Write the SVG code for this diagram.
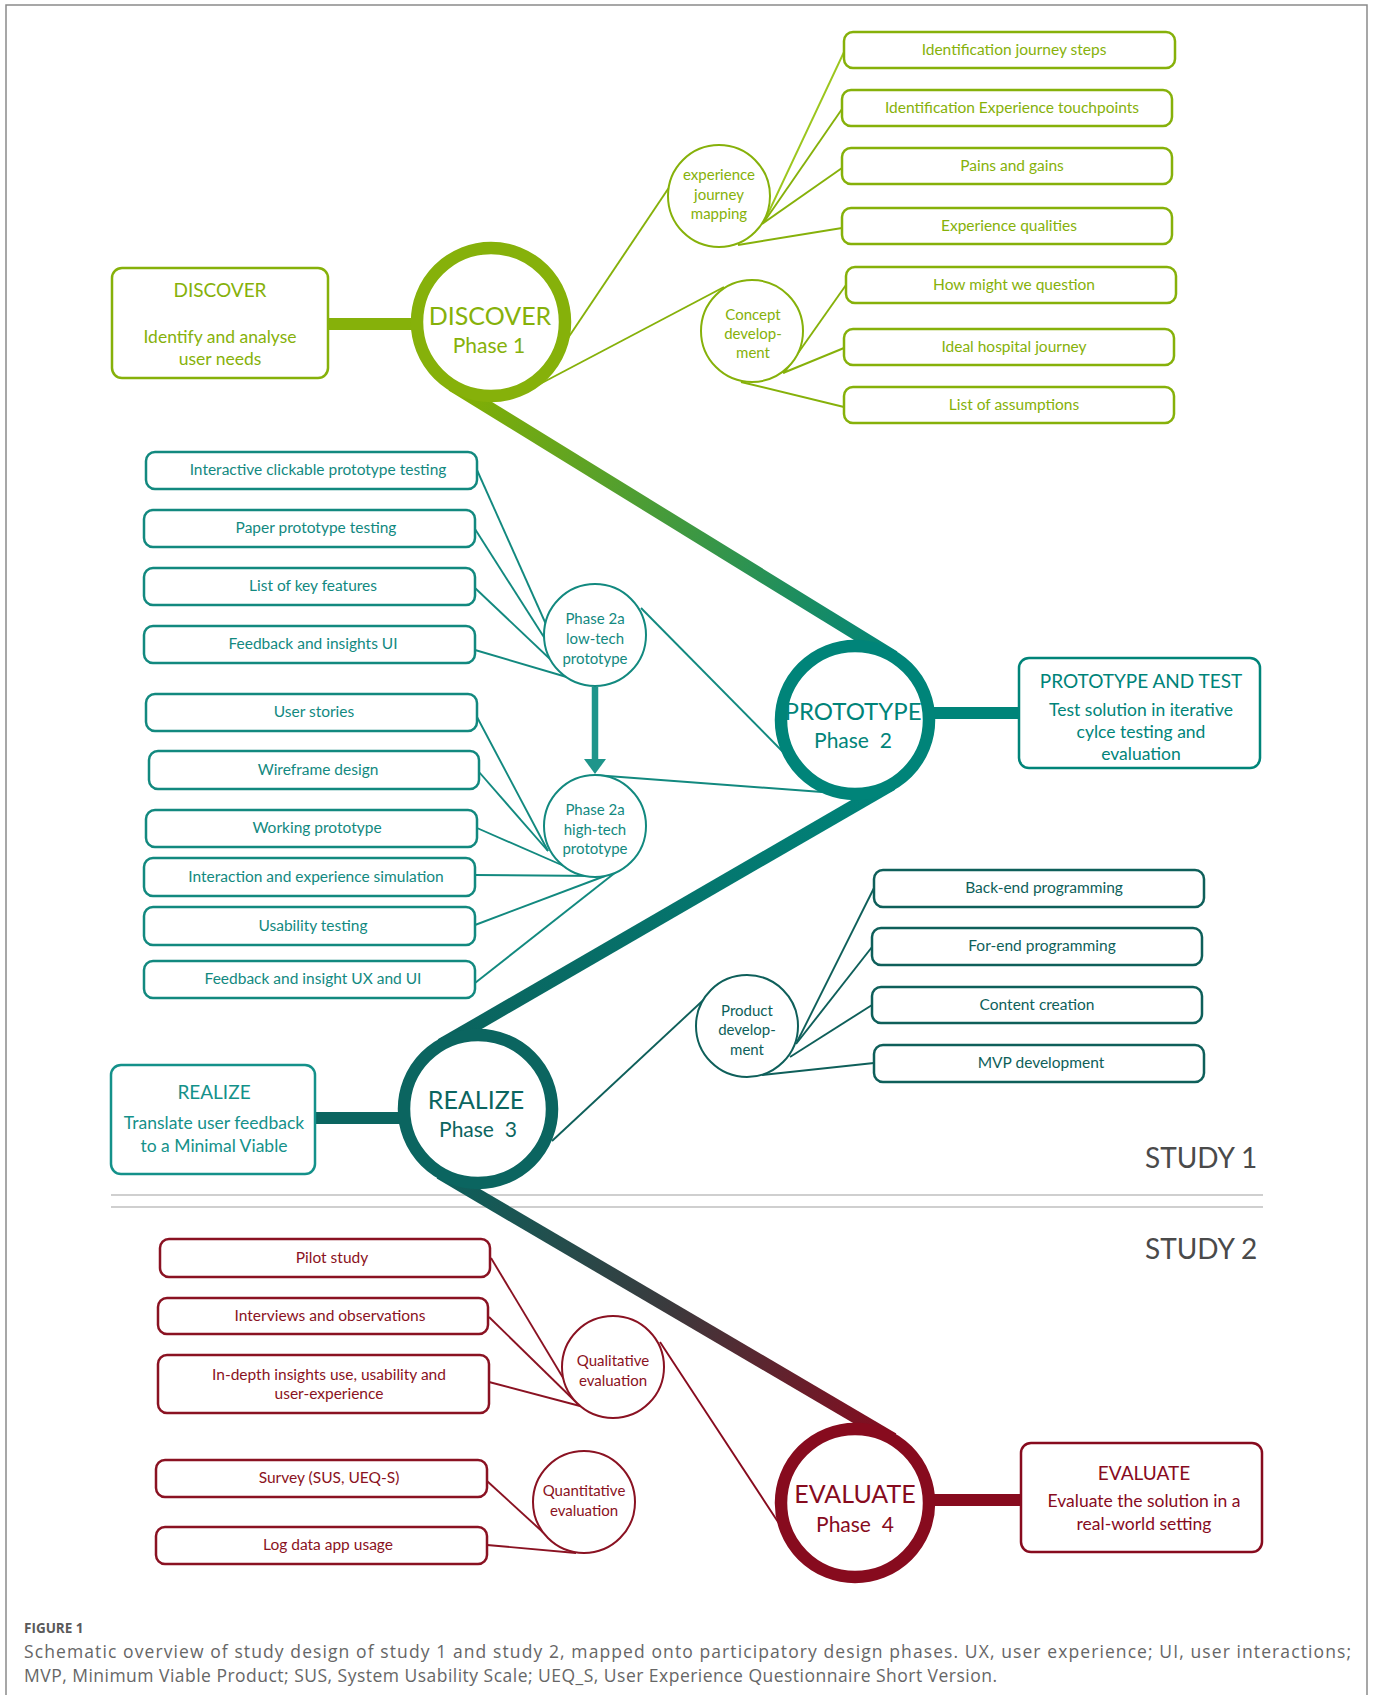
<svg xmlns="http://www.w3.org/2000/svg" width="1375" height="1695" viewBox="0 0 1375 1695">
<defs>
<linearGradient id="gA" gradientUnits="userSpaceOnUse" x1="452" y1="385" x2="894" y2="657"><stop offset="0" stop-color="#86B000"/><stop offset="1" stop-color="#00847A"/></linearGradient>
<linearGradient id="gB" gradientUnits="userSpaceOnUse" x1="892" y1="784" x2="441" y2="1045"><stop offset="0" stop-color="#00847A"/><stop offset="1" stop-color="#0B625D"/></linearGradient>
<linearGradient id="gC" gradientUnits="userSpaceOnUse" x1="440" y1="1173" x2="893" y2="1439"><stop offset="0" stop-color="#0B625D"/><stop offset="0.5" stop-color="#3A3A3D"/><stop offset="1" stop-color="#870B1E"/></linearGradient>
<style>
text{font-family:Lato,"Open Sans","Liberation Sans",sans-serif;text-anchor:middle}
.box{fill:#fff;stroke-width:2.5}
.sc{fill:#fff;stroke-width:2}
.pc{fill:#fff;stroke-width:12.5}
.thin{fill:none;stroke-width:1.9}
.thick{fill:none;stroke-width:13}
.bar{stroke-width:12}
.lab{font-size:15.5px}
.cl{font-size:15px}
.big{font-size:25px}
.ph{font-size:21px}
.dh{font-size:19px}
.dt{font-size:17.5px}
.g{stroke:#86B10A}.gt{fill:#86B10A}
.t{stroke:#12897F}.tt{fill:#12897F}
.tp{stroke:#008479}.tpt{fill:#008479}
.d{stroke:#0E5F5A}.dtt{fill:#0E5F5A}
.dr{stroke:#0B6560}.drt{fill:#0B6560}
.rb{stroke:#14918A}.rbt{fill:#14918A}
.r{stroke:#8A1222}.rt{fill:#8A1222}
.e{stroke:#870B1E}.et{fill:#870B1E}
.study{font-size:28px;fill:#4a4a4a;text-anchor:start}
.cap{font-family:"Open Sans","Liberation Sans",sans-serif;font-size:17.5px;fill:#666;text-anchor:start}
</style>
</defs>
<rect width="1375" height="1695" fill="#fff"/>
<path d="M6,1695 V5 H1367 V1695" fill="none" stroke="#8a8a8a" stroke-width="1.5"/>

<g id="dividers">
<line x1="111" y1="1195" x2="1263" y2="1195" stroke="#cfcfcf" stroke-width="2"/>
<line x1="111" y1="1207" x2="1263" y2="1207" stroke="#cfcfcf" stroke-width="2"/>
<text class="study" x="1145" y="1168">STUDY 1</text>
<text class="study" x="1145" y="1259">STUDY 2</text>
</g>

<g id="connectors">
<line class="thick" x1="452" y1="385" x2="894" y2="657" stroke="url(#gA)"/>
<line class="thick" x1="892" y1="784" x2="441" y2="1045" stroke="url(#gB)"/>
<line class="thick" x1="440" y1="1173" x2="893" y2="1439" stroke="url(#gC)"/>
<line class="bar g" x1="326" y1="324" x2="420" y2="324"/>
<line class="bar tp" x1="930" y1="713" x2="1021" y2="713"/>
<line class="bar dr" x1="313" y1="1118" x2="405" y2="1118"/>
<line class="bar e" x1="930" y1="1500" x2="1023" y2="1500" stroke-width="13"/>
<line class="thin g" x1="568" y1="338" x2="670" y2="186"/>
<line class="thin g" x1="538" y1="385" x2="724" y2="287"/>
<line class="thin" x1="764" y1="222" x2="844" y2="52" stroke="#9CC61E"/>
<line class="thin g" x1="764" y1="222" x2="842" y2="109"/>
<line class="thin g" x1="762" y1="224" x2="842" y2="168"/>
<line class="thin g" x1="738" y1="245" x2="842" y2="228"/>
<line class="thin g" x1="784" y1="373" x2="846" y2="285"/>
<line class="thin g" x1="783" y1="373" x2="844" y2="348"/>
<line class="thin g" x1="741" y1="382" x2="844" y2="407"/>
<line class="thin t" x1="477" y1="470" x2="570" y2="678"/>
<line class="thin t" x1="475" y1="529" x2="570" y2="678"/>
<line class="thin t" x1="475" y1="588" x2="570" y2="678"/>
<line class="thin t" x1="475" y1="650" x2="570" y2="678"/>
<line class="thin t" x1="641" y1="608" x2="785" y2="754"/>
<line class="thin t" x1="594" y1="775" x2="822" y2="792"/>
<line class="thin t" x1="477" y1="717" x2="548" y2="851"/>
<line class="thin t" x1="479" y1="772" x2="548" y2="851"/>
<line class="thin t" x1="477" y1="828" x2="564" y2="866"/>
<line class="thin t" x1="475" y1="875" x2="598" y2="876"/>
<line class="thin t" x1="475" y1="925" x2="605" y2="876"/>
<line class="thin t" x1="475" y1="983" x2="616" y2="872"/>
<line x1="595" y1="687" x2="595" y2="762" stroke="#1E958B" stroke-width="6.5"/>
<polygon points="584,759 606,759 595,774" fill="#1E958B"/>
<line class="thin d" x1="552" y1="1141" x2="712" y2="992"/>
<line class="thin d" x1="797" y1="1042" x2="874" y2="888"/>
<line class="thin d" x1="796" y1="1044" x2="872" y2="947"/>
<line class="thin d" x1="790" y1="1057" x2="872" y2="1005"/>
<line class="thin d" x1="762" y1="1075" x2="874" y2="1063"/>
<line class="thin r" x1="491" y1="1258" x2="580" y2="1406"/>
<line class="thin r" x1="489" y1="1317" x2="580" y2="1406"/>
<line class="thin r" x1="489" y1="1382" x2="580" y2="1406"/>
<line class="thin e" x1="660" y1="1342" x2="780" y2="1525"/>
<line class="thin r" x1="487" y1="1481" x2="546" y2="1535"/>
<line class="thin r" x1="487" y1="1545" x2="576" y2="1553"/>
</g>

<g id="discover">
<circle class="pc g" cx="491" cy="322" r="74"/>
<text class="big gt" x="490" y="325">DISCOVER</text>
<text class="ph gt" x="489" y="353">Phase 1</text>
</g>
<g id="discover-desc">
<rect class="box g" x="112" y="268" width="216" height="110" rx="10"/>
<text class="dh gt" x="220" y="297">DISCOVER</text>
<text class="dt gt" x="220" y="343">Identify and analyse</text>
<text class="dt gt" x="220" y="365">user needs</text>
</g>
<g id="exp-journey">
<circle class="sc g" cx="719" cy="196" r="51"/>
<text class="cl gt" x="719" y="180">experience</text>
<text class="cl gt" x="719" y="200">journey</text>
<text class="cl gt" x="719" y="219">mapping</text>
</g>
<g id="concept">
<circle class="sc g" cx="752" cy="331" r="51"/>
<text class="cl gt" x="753" y="320">Concept</text>
<text class="cl gt" x="753" y="339">develop-</text>
<text class="cl gt" x="753" y="358">ment</text>
</g>
<g id="g1"><rect class="box g" x="844" y="32" width="331" height="36" rx="9"/><text class="lab gt" x="1014" y="55">Identification journey steps</text></g>
<g id="g2"><rect class="box g" x="842" y="90" width="330" height="36" rx="9"/><text class="lab gt" x="1012" y="113">Identification Experience touchpoints</text></g>
<g id="g3"><rect class="box g" x="842" y="148" width="330" height="36" rx="9"/><text class="lab gt" x="1012" y="171">Pains and gains</text></g>
<g id="g4"><rect class="box g" x="842" y="208" width="330" height="36" rx="9"/><text class="lab gt" x="1009" y="231">Experience qualities</text></g>
<g id="g5"><rect class="box g" x="846" y="267" width="330" height="36" rx="9"/><text class="lab gt" x="1014" y="290">How might we question</text></g>
<g id="g6"><rect class="box g" x="844" y="329" width="330" height="36" rx="9"/><text class="lab gt" x="1014" y="352">Ideal hospital journey</text></g>
<g id="g7"><rect class="box g" x="844" y="387" width="330" height="36" rx="9"/><text class="lab gt" x="1014" y="410">List of assumptions</text></g>

<g id="prototype">
<circle class="pc tp" cx="855" cy="720" r="74"/>
<text class="big tpt" x="853" y="720" style="font-size:24px">PROTOTYPE</text>
<text class="ph tpt" x="853" y="748" xml:space="preserve">Phase  2</text>
</g>
<g id="prototype-desc">
<rect class="box tp" x="1019" y="658" width="241" height="110" rx="10"/>
<text class="dh tpt" x="1141" y="688">PROTOTYPE AND TEST</text>
<text class="dt tpt" x="1141" y="716">Test solution in iterative</text>
<text class="dt tpt" x="1141" y="738">cylce testing and</text>
<text class="dt tpt" x="1141" y="760">evaluation</text>
</g>
<g id="lowtech">
<circle class="sc t" cx="595" cy="635" r="51"/>
<text class="cl tt" x="595" y="624">Phase 2a</text>
<text class="cl tt" x="595" y="644">low-tech</text>
<text class="cl tt" x="595" y="664">prototype</text>
</g>
<g id="hightech">
<circle class="sc t" cx="595" cy="826" r="51"/>
<text class="cl tt" x="595" y="815">Phase 2a</text>
<text class="cl tt" x="595" y="835">high-tech</text>
<text class="cl tt" x="595" y="854">prototype</text>
</g>
<g id="ta"><rect class="box t" x="146" y="452" width="331" height="37" rx="9"/><text class="lab tt" x="318" y="475">Interactive clickable prototype testing</text></g>
<g id="tb"><rect class="box t" x="144" y="510" width="331" height="37" rx="9"/><text class="lab tt" x="316" y="533">Paper prototype testing</text></g>
<g id="tc"><rect class="box t" x="144" y="568" width="331" height="37" rx="9"/><text class="lab tt" x="313" y="591">List of key features</text></g>
<g id="td"><rect class="box t" x="144" y="626" width="331" height="37" rx="9"/><text class="lab tt" x="313" y="649">Feedback and insights UI</text></g>
<g id="te"><rect class="box t" x="146" y="694" width="331" height="37" rx="9"/><text class="lab tt" x="314" y="717">User stories</text></g>
<g id="tf"><rect class="box t" x="149" y="751" width="330" height="38" rx="9"/><text class="lab tt" x="318" y="775">Wireframe design</text></g>
<g id="tg"><rect class="box t" x="146" y="810" width="331" height="37" rx="9"/><text class="lab tt" x="317" y="833">Working prototype</text></g>
<g id="th"><rect class="box t" x="144" y="858" width="331" height="38" rx="9"/><text class="lab tt" x="316" y="882">Interaction and experience simulation</text></g>
<g id="ti"><rect class="box t" x="144" y="907" width="331" height="38" rx="9"/><text class="lab tt" x="313" y="931">Usability testing</text></g>
<g id="tj"><rect class="box t" x="144" y="961" width="331" height="37" rx="9"/><text class="lab tt" x="313" y="984">Feedback and insight UX and UI</text></g>

<g id="realize">
<circle class="pc dr" cx="478" cy="1109" r="74"/>
<text class="big drt" x="476" y="1109">REALIZE</text>
<text class="ph drt" x="478" y="1137" xml:space="preserve">Phase  3</text>
</g>
<g id="realize-desc">
<rect class="box rb" x="111" y="1065" width="204" height="109" rx="10"/>
<text class="dh rbt" x="214" y="1099">REALIZE</text>
<text class="dt rbt" x="214" y="1129">Translate user feedback</text>
<text class="dt rbt" x="214" y="1152">to a Minimal Viable</text>
</g>
<g id="product">
<circle class="sc d" cx="747" cy="1026" r="51"/>
<text class="cl dtt" x="747" y="1016">Product</text>
<text class="cl dtt" x="747" y="1035">develop-</text>
<text class="cl dtt" x="747" y="1055">ment</text>
</g>
<g id="rk"><rect class="box d" x="874" y="870" width="330" height="37" rx="9"/><text class="lab dtt" x="1044" y="893">Back-end programming</text></g>
<g id="rl"><rect class="box d" x="872" y="928" width="330" height="37" rx="9"/><text class="lab dtt" x="1042" y="951">For-end programming</text></g>
<g id="rm"><rect class="box d" x="872" y="987" width="330" height="36" rx="9"/><text class="lab dtt" x="1037" y="1010">Content creation</text></g>
<g id="rn"><rect class="box d" x="874" y="1045" width="330" height="37" rx="9"/><text class="lab dtt" x="1041" y="1068">MVP development</text></g>

<g id="evaluate">
<circle class="pc e" cx="855" cy="1503" r="74"/>
<text class="big et" x="855" y="1503">EVALUATE</text>
<text class="ph et" x="855" y="1532" xml:space="preserve">Phase  4</text>
</g>
<g id="evaluate-desc">
<rect class="box e" x="1021" y="1443" width="241" height="109" rx="10"/>
<text class="dh et" x="1144" y="1480">EVALUATE</text>
<text class="dt et" x="1144" y="1507">Evaluate the solution in a</text>
<text class="dt et" x="1144" y="1530">real-world setting</text>
</g>
<g id="qualitative">
<circle class="sc r" cx="613" cy="1367" r="51"/>
<text class="cl rt" x="613" y="1366">Qualitative</text>
<text class="cl rt" x="613" y="1386">evaluation</text>
</g>
<g id="quantitative">
<circle class="sc r" cx="584" cy="1502" r="51"/>
<text class="cl rt" x="584" y="1496">Quantitative</text>
<text class="cl rt" x="584" y="1516">evaluation</text>
</g>
<g id="ro"><rect class="box r" x="160" y="1239" width="330" height="38" rx="9"/><text class="lab rt" x="332" y="1263">Pilot study</text></g>
<g id="rp"><rect class="box r" x="158" y="1298" width="330" height="36" rx="9"/><text class="lab rt" x="330" y="1321">Interviews and observations</text></g>
<g id="rq"><rect class="box r" x="158" y="1355" width="331" height="58" rx="9"/><text class="lab rt" x="329" y="1380">In-depth insights use, usability and</text><text class="lab rt" x="329" y="1399">user-experience</text></g>
<g id="rr"><rect class="box r" x="156" y="1460" width="331" height="37" rx="9"/><text class="lab rt" x="329" y="1483">Survey (SUS, UEQ-S)</text></g>
<g id="rs"><rect class="box r" x="156" y="1527" width="331" height="37" rx="9"/><text class="lab rt" x="328" y="1550">Log data app usage</text></g>

<g id="caption">
<text class="cap" x="24" y="1633" style="font-size:13.5px;font-weight:700;fill:#5a5a5a">FIGURE 1</text>
<text class="cap" x="24" y="1658" textLength="1327" lengthAdjust="spacing">Schematic overview of study design of study 1 and study 2, mapped onto participatory design phases. UX, user experience; UI, user interactions;</text>
<text class="cap" x="24" y="1682" textLength="973" lengthAdjust="spacing">MVP, Minimum Viable Product; SUS, System Usability Scale; UEQ_S, User Experience Questionnaire Short Version.</text>
</g>
</svg>
